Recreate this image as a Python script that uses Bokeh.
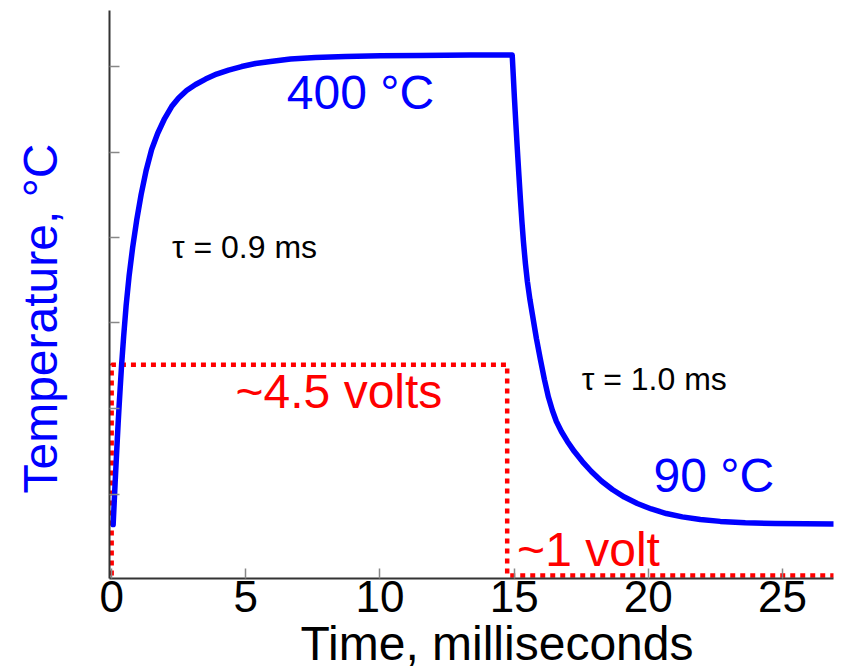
from bokeh.plotting import figure
from bokeh.models import (Range1d, FixedTicker, Label, CustomJSTickFormatter, Title,
                          LinearAxis)
from bokeh.embed import file_html
from bokeh.resources import INLINE

# ---- data ----
# temperature trace (time in ms, temperature in degC)
time_ms = [0.056, 0.093, 0.130, 0.168, 0.205, 0.242, 0.279, 0.317, 0.372, 0.447,
           0.540, 0.652, 0.782, 0.931, 1.099, 1.285, 1.490, 1.713, 1.974, 2.235,
           2.495, 2.793, 3.128, 3.501, 3.911, 4.358, 4.842, 5.363, 5.922, 6.667,
           7.598, 8.715, 10.019, 11.508, 13.371, 14.860,
           14.927, 14.965, 15.009, 15.065, 15.121, 15.177, 15.233, 15.289, 15.345,
           15.419, 15.493, 15.587, 15.680, 15.754, 15.829, 15.978, 16.127, 16.276,
           16.425, 16.574, 16.760, 16.983, 17.244, 17.542, 17.877, 18.250, 18.659,
           19.106, 19.590, 20.112, 20.670, 21.266, 21.937, 22.682, 23.613, 24.730,
           25.847, 26.927]
temp_c = [89.3, 103.2, 117.1, 130.4, 143.6, 156.2, 168.1, 179.3, 195.2, 213.7,
          234.3, 254.1, 272.6, 290.5, 307.7, 323.6, 337.5, 348.1, 358.0, 365.9,
          371.6, 376.5, 380.5, 384.1, 387.4, 390.1, 392.4, 394.4, 395.8, 397.4,
          398.4, 399.0, 399.5, 399.8, 400.0, 400.1,
          400.0, 387.1, 371.9, 354.0, 336.8, 320.3, 304.4, 289.8, 276.6,
          262.0, 250.1, 238.2, 228.3, 220.4, 212.4, 198.5, 185.3, 173.7,
          164.8, 157.5, 150.9, 144.3, 137.6, 131.0, 124.4, 118.1, 112.5,
          107.5, 103.2, 99.6, 96.6, 94.4, 92.6, 91.4, 90.5, 90.0,
          89.8, 89.7]

# drive voltage (dotted red)
volt_t = [0.0, 0.0, 14.74, 14.74, 27.0]
volt_v = [1.0, 4.5, 4.5, 1.0, 1.0]

x_ticks = [0, 5, 10, 15, 20, 25]
y_ticks = [109.5, 166.1, 222.7, 279.2, 335.8, 392.4]   # unlabeled marks

FONT = "Liberation Sans"

p = figure(width=846, height=671,
           x_range=Range1d(-0.08, 26.9), y_range=Range1d(53.6, 429.5),
           output_backend="svg", toolbar_location=None,
           min_border_left=109, min_border_right=13, min_border_top=10,
           min_border_bottom=93)
p.extra_y_ranges = {"volts": Range1d(0.95, 10.385)}

p.grid.visible = False
p.outline_line_color = None
p.background_fill_color = "white"

for ax in (p.xaxis[0], p.yaxis[0]):
    ax.axis_line_color = "#333333"
    ax.axis_line_width = 2
    ax.major_tick_line_color = "#888888"
    ax.major_tick_line_width = 1.5
    ax.major_tick_in = 10
    ax.major_tick_out = 0
    ax.minor_tick_line_color = None

p.xaxis.ticker = FixedTicker(ticks=x_ticks)
p.xaxis.major_label_text_font = FONT
p.xaxis.major_label_text_font_size = "44px"
p.xaxis.major_label_text_color = "black"
p.xaxis.major_label_standoff = 2

p.yaxis.ticker = FixedTicker(ticks=y_ticks)
p.yaxis.formatter = CustomJSTickFormatter(code="return ''")
p.yaxis.major_label_standoff = 0

# invisible spacer axis: keeps the y title away from the frame
spacer = LinearAxis(ticker=FixedTicker(ticks=[y_ticks[2]]),
                    formatter=CustomJSTickFormatter(code="return ''"),
                    axis_line_color=None, major_tick_line_color=None,
                    minor_tick_line_color=None, major_tick_in=0, major_tick_out=43,
                    major_label_standoff=0)
p.add_layout(spacer, "left")

# axis titles
p.add_layout(Title(text="Time, milliseconds", align="left", offset=191,
                   text_font=FONT, text_font_size="48px", text_font_style="normal",
                   text_color="black", standoff=0), "below")
p.add_layout(Title(text="Temperature, °C", align="left", offset=85,
                   text_font=FONT, text_font_size="48px", text_font_style="normal",
                   text_color="#0000ff", standoff=0), "left")

# voltage step
p.line(volt_t, volt_v, y_range_name="volts", line_color="#ff0000",
       line_width=4.5, line_dash="5 5")

# temperature trace
p.line(time_ms, temp_c, line_color="#0000ff", line_width=5.5,
       line_join="round", line_cap="round")

def lab(x, y, text, color, size):
    p.add_layout(Label(x=x, y=y, text=text, text_color=color, text_font=FONT,
                       text_font_size=size, text_align="center",
                       text_baseline="alphabetic"))

lab(9.27, 375.2, "400 °C", "#0000ff", "48px")
lab(22.44, 121.8, "90 °C", "#0000ff", "48px")
lab(4.95, 273.3, "τ = 0.9 ms", "black", "32px")
lab(20.22, 185.3, "τ = 1.0 ms", "black", "32px")
lab(8.47, 177.3, "~4.5 volts", "#ff0000", "48px")
lab(17.77, 72.8, "~1 volt", "#ff0000", "48px")

open("out.html", "w").write(file_html(p, INLINE))
